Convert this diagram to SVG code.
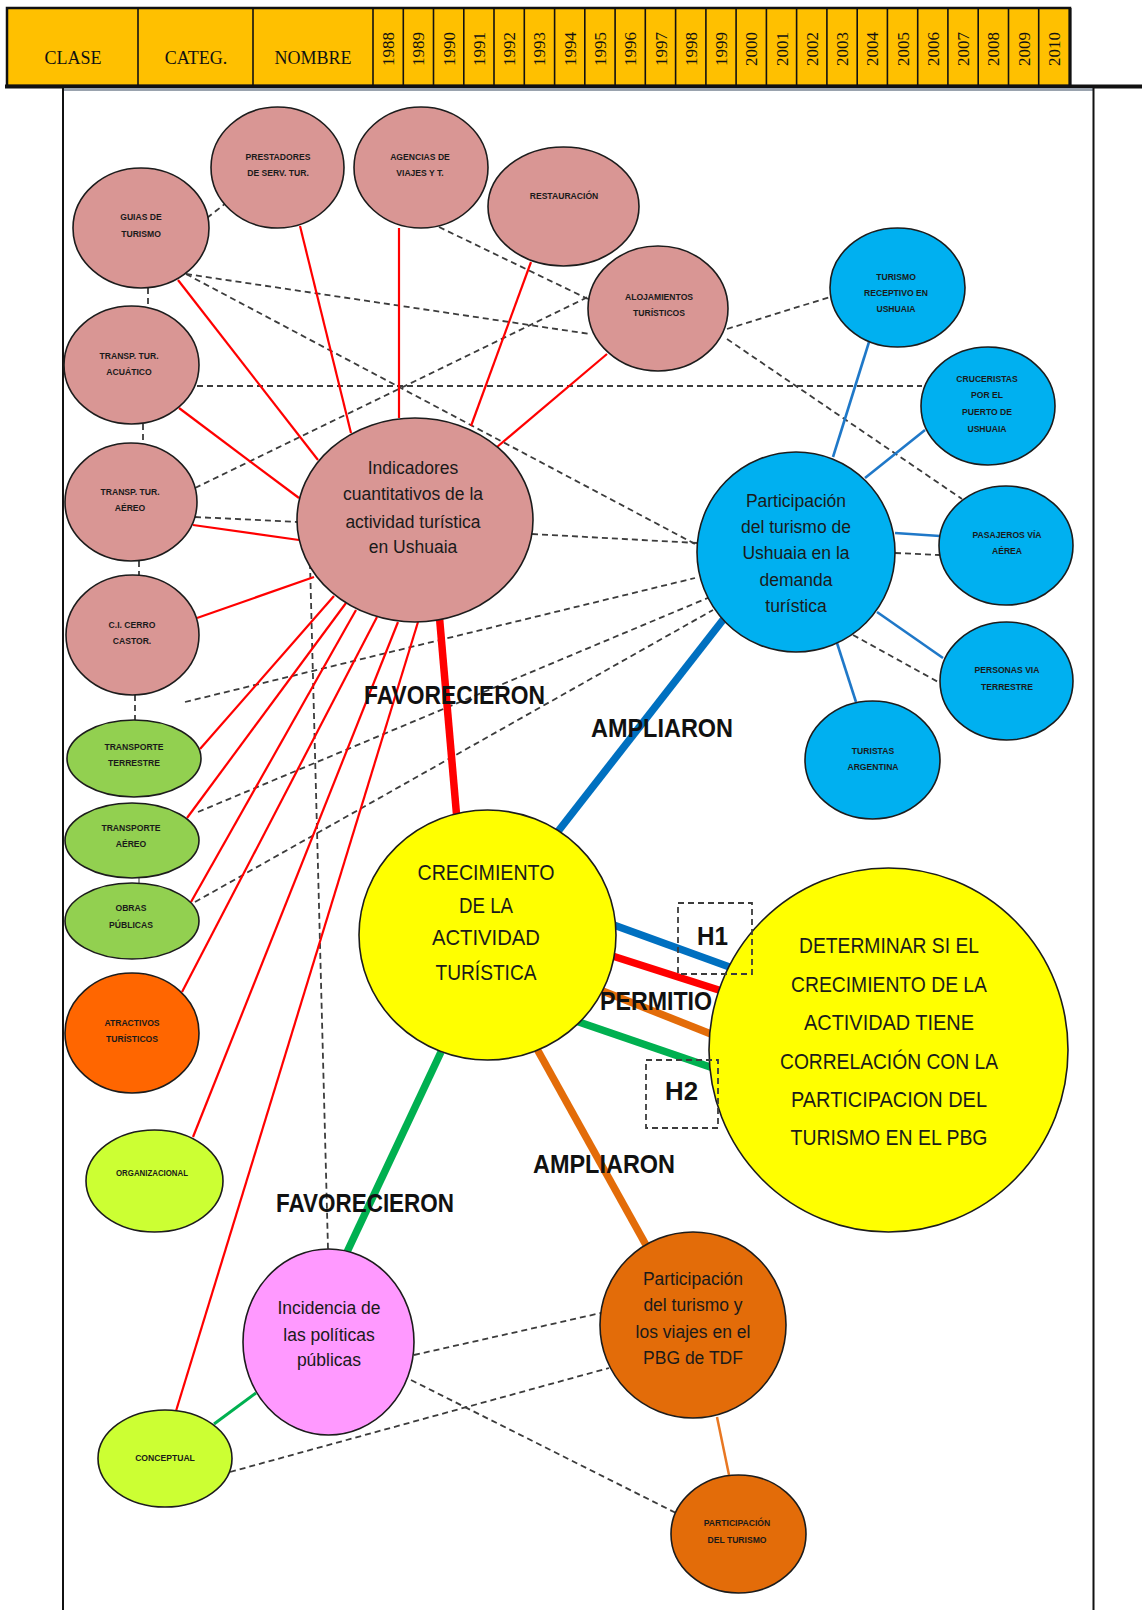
<svg xmlns="http://www.w3.org/2000/svg" width="1142" height="1610" viewBox="0 0 1142 1610">
<style>
.n{stroke:#1c1c1c;stroke-width:1.6}
.pk{fill:#D99694}.bl{fill:#00B0F0}.gr{fill:#92D050}.or{fill:#FF6600}.yg{fill:#CCFF33}.mg{fill:#FF99FF}.do{fill:#E36C09}.ye{fill:#FFFF00}
.s{font-family:"Liberation Sans",Arial,sans-serif;font-weight:bold;font-size:8.6px;fill:#1a1a1a;text-anchor:middle}
.m{font-family:"Liberation Sans",Arial,sans-serif;font-size:17.5px;fill:#1a1a1a;text-anchor:middle}
.L{font-family:"Liberation Sans",Arial,sans-serif;font-size:22px;fill:#1a1a1a;text-anchor:middle}
.lab{font-family:"Liberation Sans",Arial,sans-serif;font-weight:bold;font-size:26px;fill:#111}
.r{stroke:#FF0000;stroke-width:2.2;fill:none}
.b{stroke:#1F78C8;stroke-width:2.6;fill:none}
.d{stroke:#3c3c3c;stroke-width:1.8;stroke-dasharray:6 4;fill:none}
.t{stroke-width:7.5;fill:none}
.hd{font-family:"Liberation Serif","Times New Roman",serif;font-size:18px;fill:#111;text-anchor:middle}
.yr{font-family:"Liberation Serif","Times New Roman",serif;font-size:17px;fill:#111;text-anchor:middle}
.cl{stroke:#111;stroke-width:1.6}
</style>

<g id="header">
<rect x="7" y="8" width="1063" height="78" fill="#FFC000" stroke="#111" stroke-width="2.5"/>
<line x1="5" y1="86.5" x2="1142" y2="86.5" stroke="#111" stroke-width="4"/>
<line x1="1070" y1="8" x2="1070" y2="86" stroke="#111" stroke-width="3"/>
<line class="cl" x1="138" y1="8" x2="138" y2="86"/>
<line class="cl" x1="253" y1="8" x2="253" y2="86"/>
<line class="cl" x1="373" y1="8" x2="373" y2="86"/>
<line class="cl" x1="403.3" y1="8" x2="403.3" y2="86"/>
<line class="cl" x1="433.5" y1="8" x2="433.5" y2="86"/>
<line class="cl" x1="463.8" y1="8" x2="463.8" y2="86"/>
<line class="cl" x1="494" y1="8" x2="494" y2="86"/>
<line class="cl" x1="524.3" y1="8" x2="524.3" y2="86"/>
<line class="cl" x1="554.6" y1="8" x2="554.6" y2="86"/>
<line class="cl" x1="584.8" y1="8" x2="584.8" y2="86"/>
<line class="cl" x1="615.1" y1="8" x2="615.1" y2="86"/>
<line class="cl" x1="645.3" y1="8" x2="645.3" y2="86"/>
<line class="cl" x1="675.6" y1="8" x2="675.6" y2="86"/>
<line class="cl" x1="705.9" y1="8" x2="705.9" y2="86"/>
<line class="cl" x1="736.1" y1="8" x2="736.1" y2="86"/>
<line class="cl" x1="766.4" y1="8" x2="766.4" y2="86"/>
<line class="cl" x1="796.6" y1="8" x2="796.6" y2="86"/>
<line class="cl" x1="826.9" y1="8" x2="826.9" y2="86"/>
<line class="cl" x1="857.2" y1="8" x2="857.2" y2="86"/>
<line class="cl" x1="887.4" y1="8" x2="887.4" y2="86"/>
<line class="cl" x1="917.7" y1="8" x2="917.7" y2="86"/>
<line class="cl" x1="947.9" y1="8" x2="947.9" y2="86"/>
<line class="cl" x1="978.2" y1="8" x2="978.2" y2="86"/>
<line class="cl" x1="1008.5" y1="8" x2="1008.5" y2="86"/>
<line class="cl" x1="1038.7" y1="8" x2="1038.7" y2="86"/>
<text class="hd" x="73" y="64">CLASE</text>
<text class="hd" x="196" y="64">CATEG.</text>
<text class="hd" x="313" y="64">NOMBRE</text>
<text class="yr" transform="translate(394.1,49) rotate(-90)">1988</text>
<text class="yr" transform="translate(424.4,49) rotate(-90)">1989</text>
<text class="yr" transform="translate(454.7,49) rotate(-90)">1990</text>
<text class="yr" transform="translate(484.9,49) rotate(-90)">1991</text>
<text class="yr" transform="translate(515.2,49) rotate(-90)">1992</text>
<text class="yr" transform="translate(545.4,49) rotate(-90)">1993</text>
<text class="yr" transform="translate(575.7,49) rotate(-90)">1994</text>
<text class="yr" transform="translate(606,49) rotate(-90)">1995</text>
<text class="yr" transform="translate(636.2,49) rotate(-90)">1996</text>
<text class="yr" transform="translate(666.5,49) rotate(-90)">1997</text>
<text class="yr" transform="translate(696.7,49) rotate(-90)">1998</text>
<text class="yr" transform="translate(727,49) rotate(-90)">1999</text>
<text class="yr" transform="translate(757.2,49) rotate(-90)">2000</text>
<text class="yr" transform="translate(787.5,49) rotate(-90)">2001</text>
<text class="yr" transform="translate(817.8,49) rotate(-90)">2002</text>
<text class="yr" transform="translate(848,49) rotate(-90)">2003</text>
<text class="yr" transform="translate(878.3,49) rotate(-90)">2004</text>
<text class="yr" transform="translate(908.5,49) rotate(-90)">2005</text>
<text class="yr" transform="translate(938.8,49) rotate(-90)">2006</text>
<text class="yr" transform="translate(969.1,49) rotate(-90)">2007</text>
<text class="yr" transform="translate(999.3,49) rotate(-90)">2008</text>
<text class="yr" transform="translate(1029.6,49) rotate(-90)">2009</text>
<text class="yr" transform="translate(1059.8,49) rotate(-90)">2010</text>
</g>

<g id="frame">
<line x1="63" y1="89.5" x2="1094" y2="89.5" stroke="#9aa3ae" stroke-width="3"/>
<line x1="63" y1="88" x2="63" y2="1610" stroke="#111" stroke-width="2"/>
<line x1="1093.5" y1="88" x2="1093.5" y2="1610" stroke="#111" stroke-width="2"/>
</g>

<g id="connectors">
<!-- dashed -->
<line class="d" x1="207" y1="218" x2="226" y2="203"/>
<line class="d" x1="148" y1="288" x2="148" y2="307"/>
<line class="d" x1="143" y1="424" x2="143" y2="443"/>
<line class="d" x1="139" y1="561" x2="139" y2="576"/>
<line class="d" x1="135" y1="695" x2="135" y2="721"/>
<line x1="139" y1="877" x2="139" y2="884" stroke="#555" stroke-width="1.2"/>
<line class="d" x1="439" y1="227" x2="588" y2="299"/>
<line class="d" x1="186" y1="274" x2="590" y2="334"/>
<line class="d" x1="186" y1="274" x2="697" y2="545"/>
<line class="d" x1="197" y1="386" x2="922" y2="386"/>
<line class="d" x1="195" y1="488" x2="588" y2="297"/>
<line class="d" x1="195" y1="517" x2="298" y2="522"/>
<line class="d" x1="532" y1="534" x2="697" y2="543"/>
<line class="d" x1="727" y1="329" x2="830" y2="297"/>
<line class="d" x1="727" y1="339" x2="962" y2="499"/>
<line class="d" x1="895" y1="553" x2="940" y2="555"/>
<line class="d" x1="853" y1="635" x2="940" y2="683"/>
<line class="d" x1="185" y1="702" x2="695" y2="578"/>
<line class="d" x1="198" y1="812" x2="710" y2="597"/>
<line class="d" x1="195" y1="902" x2="713" y2="610"/>
<line class="d" x1="310" y1="563" x2="328" y2="1249"/>
<line class="d" x1="414" y1="1355" x2="601" y2="1313"/>
<line class="d" x1="230" y1="1472" x2="609" y2="1368"/>
<line class="d" x1="411" y1="1380" x2="676" y2="1513"/>
<!-- thin red -->
<line class="r" x1="178" y1="280" x2="318" y2="460"/>
<line class="r" x1="300" y1="226" x2="351" y2="433"/>
<line class="r" x1="399" y1="228" x2="399" y2="418"/>
<line class="r" x1="531" y1="262" x2="471" y2="426"/>
<line class="r" x1="607" y1="354" x2="497" y2="447"/>
<line class="r" x1="179" y1="408" x2="299" y2="498"/>
<line class="r" x1="193" y1="525" x2="299" y2="540"/>
<line class="r" x1="197" y1="618" x2="314" y2="577"/>
<line class="r" x1="200" y1="749" x2="334" y2="596"/>
<line class="r" x1="187" y1="818" x2="346" y2="603"/>
<line class="r" x1="191" y1="902" x2="356" y2="610"/>
<line class="r" x1="182" y1="992" x2="377" y2="617"/>
<line class="r" x1="193" y1="1137" x2="398" y2="622"/>
<line class="r" x1="176" y1="1411" x2="418" y2="622"/>
<!-- thin blue -->
<line class="b" x1="833" y1="457" x2="869" y2="342"/>
<line class="b" x1="865" y1="478" x2="925" y2="430"/>
<line class="b" x1="895" y1="533" x2="940" y2="536"/>
<line class="b" x1="877" y1="612" x2="943" y2="658"/>
<line class="b" x1="837" y1="643" x2="856" y2="702"/>
<!-- thin green / orange -->
<line x1="256" y1="1393" x2="214" y2="1424" stroke="#00B050" stroke-width="3"/>
<line x1="717" y1="1417" x2="729" y2="1475" stroke="#E87722" stroke-width="2.5"/>
<!-- thick -->
<line class="t" stroke="#FF0000" x1="439" y1="612" x2="457" y2="820"/>
<line class="t" stroke="#0070C0" x1="556" y1="834" x2="726" y2="616"/>
<line class="t" stroke="#00B050" x1="441" y1="1052" x2="347" y2="1252"/>
<line class="t" stroke="#E36C09" x1="537" y1="1049" x2="646" y2="1245"/>
<line class="t" stroke="#0070C0" x1="600" y1="920" x2="735" y2="969"/>
<line class="t" stroke="#FF0000" x1="600" y1="952" x2="725" y2="992"/>
<line class="t" stroke="#E36C09" x1="585" y1="984" x2="716" y2="1036"/>
<line class="t" stroke="#00B050" x1="570" y1="1019" x2="716" y2="1069"/>
</g>

<g id="n-prestadores"><ellipse class="n pk" cx="277.5" cy="167.5" rx="66.5" ry="60.5"/><text class="s" x="278" y="160">PRESTADORES</text><text class="s" x="278" y="176">DE SERV. TUR.</text></g>
<g id="n-agencias"><ellipse class="n pk" cx="421" cy="167.5" rx="67" ry="60.5"/><text class="s" x="420" y="160">AGENCIAS DE</text><text class="s" x="420" y="176">VIAJES Y T.</text></g>
<g id="n-restauracion"><ellipse class="n pk" cx="563.5" cy="206.5" rx="75.5" ry="59.5"/><text class="s" x="564" y="199">RESTAURACIÓN</text></g>
<g id="n-guias"><ellipse class="n pk" cx="141" cy="228" rx="68" ry="60"/><text class="s" x="141" y="220">GUIAS DE</text><text class="s" x="141" y="237">TURISMO</text></g>
<g id="n-alojamientos"><ellipse class="n pk" cx="658" cy="308.5" rx="70" ry="62.5"/><text class="s" x="659" y="300">ALOJAMIENTOS</text><text class="s" x="659" y="316">TURÍSTICOS</text></g>
<g id="n-acuatico"><ellipse class="n pk" cx="131.5" cy="365" rx="67.5" ry="59"/><text class="s" x="129" y="359">TRANSP.  TUR.</text><text class="s" x="129" y="375">ACUÁTICO</text></g>
<g id="n-aereo-tur"><ellipse class="n pk" cx="131" cy="502" rx="66" ry="59"/><text class="s" x="130" y="495">TRANSP. TUR.</text><text class="s" x="130" y="511">AÉREO</text></g>
<g id="n-castor"><ellipse class="n pk" cx="132.5" cy="635" rx="66.5" ry="60"/><text class="s" x="132" y="628">C.I. CERRO</text><text class="s" x="132" y="644">CASTOR.</text></g>
<g id="n-indicadores"><ellipse class="n pk" cx="415" cy="520" rx="118" ry="102"/>
<text class="m" x="413" y="474">Indicadores</text><text class="m" x="413" y="500">cuantitativos de la</text><text class="m" x="413" y="528">actividad turística</text><text class="m" x="413" y="553">en Ushuaia</text></g>
<g id="n-transp-terrestre"><ellipse class="n gr" cx="134" cy="758.5" rx="67" ry="38.5"/><text class="s" x="134" y="750">TRANSPORTE</text><text class="s" x="134" y="766">TERRESTRE</text></g>
<g id="n-transp-aereo"><ellipse class="n gr" cx="132" cy="840.5" rx="67" ry="37.5"/><text class="s" x="131" y="831">TRANSPORTE</text><text class="s" x="131" y="847">AÉREO</text></g>
<g id="n-obras"><ellipse class="n gr" cx="132" cy="921" rx="67" ry="38"/><text class="s" x="131" y="911">OBRAS</text><text class="s" x="131" y="928">PÚBLICAS</text></g>
<g id="n-atractivos"><ellipse class="n or" cx="132" cy="1033" rx="67" ry="60"/><text class="s" x="132" y="1026">ATRACTIVOS</text><text class="s" x="132" y="1042">TURÍSTICOS</text></g>
<g id="n-organizacional"><ellipse class="n yg" cx="154.5" cy="1181" rx="68.5" ry="51"/><text class="s" x="152" y="1176" textLength="72" lengthAdjust="spacingAndGlyphs">ORGANIZACIONAL</text></g>
<g id="n-conceptual"><ellipse class="n yg" cx="165" cy="1458.5" rx="67" ry="48.5"/><text class="s" x="165" y="1461">CONCEPTUAL</text></g>
<g id="n-incidencia"><ellipse class="n mg" cx="328.5" cy="1342" rx="85.5" ry="93"/>
<text class="m" x="329" y="1314">Incidencia de</text><text class="m" x="329" y="1341">las políticas</text><text class="m" x="329" y="1366">públicas</text></g>
<g id="n-pbg"><ellipse class="n do" cx="693" cy="1325" rx="93" ry="93"/>
<text class="m" x="693" y="1285">Participación</text><text class="m" x="693" y="1311">del turismo y</text><text class="m" x="693" y="1338">los viajes en el</text><text class="m" x="693" y="1364">PBG de TDF</text></g>
<g id="n-part-turismo"><ellipse class="n do" cx="738.5" cy="1534" rx="67.5" ry="59"/><text class="s" x="737" y="1526">PARTICIPACIÓN</text><text class="s" x="737" y="1543">DEL TURISMO</text></g>
<g id="n-participacion"><ellipse class="n bl" cx="796" cy="552" rx="99" ry="100"/>
<text class="m" x="796" y="507">Participación</text><text class="m" x="796" y="533">del turismo de</text><text class="m" x="796" y="559">Ushuaia en la</text><text class="m" x="796" y="586">demanda</text><text class="m" x="796" y="612">turística</text></g>
<g id="n-receptivo"><ellipse class="n bl" cx="897.5" cy="287.5" rx="67.5" ry="59.5"/><text class="s" x="896" y="280">TURISMO</text><text class="s" x="896" y="296">RECEPTIVO  EN</text><text class="s" x="896" y="312">USHUAIA</text></g>
<g id="n-cruceristas"><ellipse class="n bl" cx="988" cy="406" rx="67" ry="59"/><text class="s" x="987" y="382">CRUCERISTAS</text><text class="s" x="987" y="398">POR EL</text><text class="s" x="987" y="415">PUERTO  DE</text><text class="s" x="987" y="432">USHUAIA</text></g>
<g id="n-pasajeros"><ellipse class="n bl" cx="1006" cy="545.5" rx="67" ry="59.5"/><text class="s" x="1007" y="538">PASAJEROS VÍA</text><text class="s" x="1007" y="554">AÉREA</text></g>
<g id="n-personas"><ellipse class="n bl" cx="1006.5" cy="681" rx="66.5" ry="59"/><text class="s" x="1007" y="673">PERSONAS VIA</text><text class="s" x="1007" y="690">TERRESTRE</text></g>
<g id="n-turistas"><ellipse class="n bl" cx="872.5" cy="760" rx="67.5" ry="59"/><text class="s" x="873" y="754">TURISTAS</text><text class="s" x="873" y="770">ARGENTINA</text></g>
<g id="n-crecimiento"><ellipse class="n ye" cx="487.5" cy="935" rx="128.5" ry="125"/>
<text class="L" x="486" y="880" textLength="137" lengthAdjust="spacingAndGlyphs">CRECIMIENTO</text>
<text class="L" x="486" y="913" textLength="54" lengthAdjust="spacingAndGlyphs">DE LA</text>
<text class="L" x="486" y="945" textLength="108" lengthAdjust="spacingAndGlyphs">ACTIVIDAD</text>
<text class="L" x="486" y="980" textLength="101" lengthAdjust="spacingAndGlyphs">TURÍSTICA</text></g>

<g id="labels">
<text class="lab" x="364" y="704" textLength="181" lengthAdjust="spacingAndGlyphs">FAVORECIERON</text>
<text class="lab" x="591" y="737" textLength="142" lengthAdjust="spacingAndGlyphs">AMPLIARON</text>
<text class="lab" x="600" y="1010" textLength="112" lengthAdjust="spacingAndGlyphs">PERMITIO</text>
<text class="lab" x="533" y="1173" textLength="142" lengthAdjust="spacingAndGlyphs">AMPLIARON</text>
<text class="lab" x="276" y="1212" textLength="178" lengthAdjust="spacingAndGlyphs">FAVORECIERON</text>
</g>

<g id="n-determinar"><ellipse class="n ye" cx="888.5" cy="1050" rx="179.5" ry="182"/>
<text class="L" x="889" y="953" font-size="23" textLength="180" lengthAdjust="spacingAndGlyphs">DETERMINAR SI EL</text>
<text class="L" x="889" y="992" font-size="23" textLength="196" lengthAdjust="spacingAndGlyphs">CRECIMIENTO DE LA</text>
<text class="L" x="889" y="1030" font-size="23" textLength="170" lengthAdjust="spacingAndGlyphs">ACTIVIDAD TIENE</text>
<text class="L" x="889" y="1069" font-size="23" textLength="218" lengthAdjust="spacingAndGlyphs">CORRELACIÓN CON LA</text>
<text class="L" x="889" y="1107" font-size="23" textLength="196" lengthAdjust="spacingAndGlyphs">PARTICIPACION DEL</text>
<text class="L" x="889" y="1145" font-size="23" textLength="197" lengthAdjust="spacingAndGlyphs">TURISMO EN EL PBG</text></g>

<g id="n-hypotheses">
<rect class="d" x="678" y="903" width="74" height="71" stroke-width="1.4"/>
<text class="lab" x="697" y="945" font-size="28" textLength="31" lengthAdjust="spacingAndGlyphs">H1</text>
<rect class="d" x="646" y="1060" width="72" height="68" stroke-width="1.4"/>
<text class="lab" x="665" y="1100" font-size="28" textLength="33" lengthAdjust="spacingAndGlyphs">H2</text>
</g>
</svg>
